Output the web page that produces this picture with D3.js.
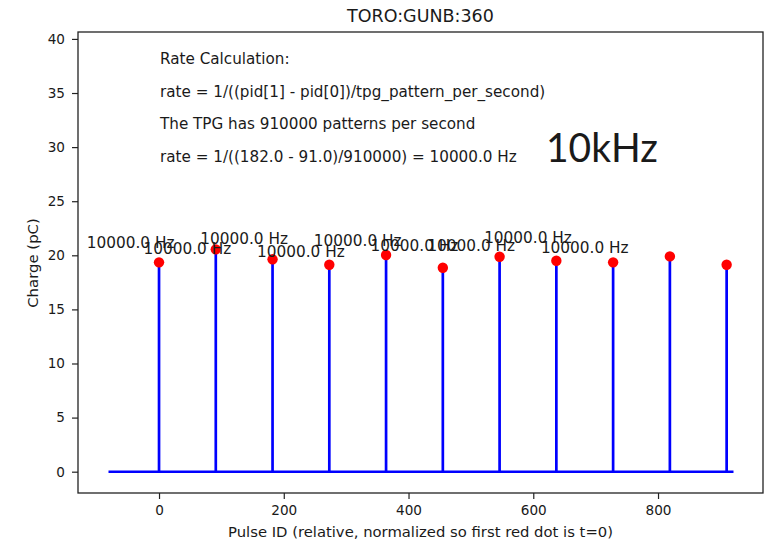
<!DOCTYPE html>
<html>
<head>
<meta charset="utf-8">
<script src="https://cdn.jsdelivr.net/npm/d3@7"></script>
<style>
  html, body { margin: 0; padding: 0; background: #fff; }
  svg { display: block; }
  text { font-family: "DejaVu Sans", sans-serif; fill: #1a1a1a; }
</style>
</head>
<body>
<div id="chart"></div>
<script>
// Pulse IDs (relative to the first red dot) and measured charge per pulse
const pulseIds = [0, 91, 182, 273, 364, 455, 546, 637, 728, 819, 910];
const charges  = [19.35, 20.55, 19.63, 19.13, 20.03, 18.85, 19.87, 19.5, 19.35, 19.9, 19.13];

// Rate annotations: pulse position, vertical position (pC) and computed rate
const rateLabelIds     = [-45.5, 45.5, 136.5, 227.5, 318.5, 409.5, 500.5, 591.5, 682.5];
const rateLabelCharges = [21.14, 20.58, 21.5, 20.35, 21.32, 20.86, 20.86, 21.6, 20.67];
const rates            = [10000.0, 10000.0, 10000.0, 10000.0, 10000.0, 10000.0, 10000.0, 10000.0, 10000.0];

// Baseline trace extent (pulse IDs)
const traceStart = -81;
const traceEnd = 921;

// Axis ticks
const xTicks = [0, 200, 400, 600, 800];
const yTicks = [0, 5, 10, 15, 20, 25, 30, 35, 40];

const title = "TORO:GUNB:360";
const xLabel = "Pulse ID (relative, normalized so first red dot is t=0)";
const yLabel = "Charge (pC)";
const noteLines = [
  "Rate Calculation:",
  "rate = 1/((pid[1] - pid[0])/tpg_pattern_per_second)",
  "The TPG has 910000 patterns per second",
  "rate = 1/((182.0 - 91.0)/910000) = 10000.0 Hz"
];
const bigNote = "10kHz";

const W = 770, H = 542;
const margin = { top: 32, right: 7, bottom: 49, left: 78 };
const iw = W - margin.left - margin.right;
const ih = H - margin.top - margin.bottom;

const svg = d3.select("#chart").append("svg").attr("width", W).attr("height", H);
const g = svg.append("g").attr("transform", `translate(${margin.left},${margin.top})`);

const x = d3.scaleLinear().domain([-129.9, 968.3]).range([0, iw]);
const y = d3.scaleLinear().domain([-1.97, 40.64]).range([ih, 0]);

const blue = "#0000ff";
const red = "#ff0000";

// Baseline of the charge trace
g.append("line")
  .attr("x1", x(traceStart)).attr("x2", x(traceEnd))
  .attr("y1", y(0)).attr("y2", y(0))
  .attr("stroke", blue).attr("stroke-width", 2.6);

// Stems for each pulse
g.selectAll("line.stem").data(pulseIds).join("line")
  .attr("class", "stem")
  .attr("x1", d => x(d)).attr("x2", d => x(d))
  .attr("y1", y(0)).attr("y2", (d, i) => y(charges[i]))
  .attr("stroke", blue).attr("stroke-width", 2.7);

// Peak markers
g.selectAll("circle.peak").data(pulseIds).join("circle")
  .attr("class", "peak")
  .attr("cx", d => x(d)).attr("cy", (d, i) => y(charges[i]))
  .attr("r", 5.2).attr("fill", red);

// Rate annotations between consecutive pulses
g.selectAll("text.rate").data(rateLabelIds).join("text")
  .attr("class", "rate")
  .attr("x", d => x(d)).attr("y", (d, i) => y(rateLabelCharges[i]))
  .attr("text-anchor", "middle").attr("dominant-baseline", "central")
  .style("font-size", "15.3px")
  .text((d, i) => `${rates[i].toFixed(1)} Hz`);

// Axes
const xAxis = d3.axisBottom(x).tickValues(xTicks).tickSize(6).tickPadding(6).tickFormat(d3.format("d"));
const yAxis = d3.axisLeft(y).tickValues(yTicks).tickSize(6).tickPadding(7).tickFormat(d3.format("d"));

const gx = g.append("g").attr("transform", `translate(0,${ih})`).call(xAxis);
const gy = g.append("g").call(yAxis);
[gx, gy].forEach(a => {
  a.select(".domain").remove();
  a.selectAll(".tick line").attr("stroke", "#222").attr("stroke-width", 1.2);
  a.selectAll(".tick text").style("font-size", "13.6px").attr("fill", "#222");
});

// Plot frame
g.append("rect").attr("x", 0).attr("y", 0).attr("width", iw).attr("height", ih)
  .attr("fill", "none").attr("stroke", "#222").attr("stroke-width", 1.3);

// Title and axis labels
svg.append("text").attr("x", margin.left + iw / 2).attr("y", 16)
  .attr("text-anchor", "middle").attr("dominant-baseline", "central")
  .style("font-size", "17.5px").text(title);

svg.append("text").attr("x", margin.left + iw / 2).attr("y", 531.5)
  .attr("text-anchor", "middle").attr("dominant-baseline", "central")
  .style("font-size", "14.8px").text(xLabel);

svg.append("text").attr("transform", `translate(32.5,263) rotate(-90)`)
  .attr("text-anchor", "middle").attr("dominant-baseline", "central")
  .style("font-size", "14.9px").text(yLabel);

// Rate calculation notes
const noteY = [59.3, 92.3, 124, 156.5];
svg.selectAll("text.note").data(noteLines).join("text")
  .attr("class", "note")
  .attr("x", 160).attr("y", (d, i) => noteY[i])
  .attr("dominant-baseline", "central")
  .style("font-size", "15.2px")
  .text(d => d);

svg.append("text").attr("x", 546).attr("y", 161.5)
  .style("font-family", "Lato, 'Open Sans', sans-serif")
  .style("font-size", "41px").attr("fill", "#000")
  .attr("textLength", 112).attr("lengthAdjust", "spacingAndGlyphs")
  .text(bigNote);
</script>
</body>
</html>
